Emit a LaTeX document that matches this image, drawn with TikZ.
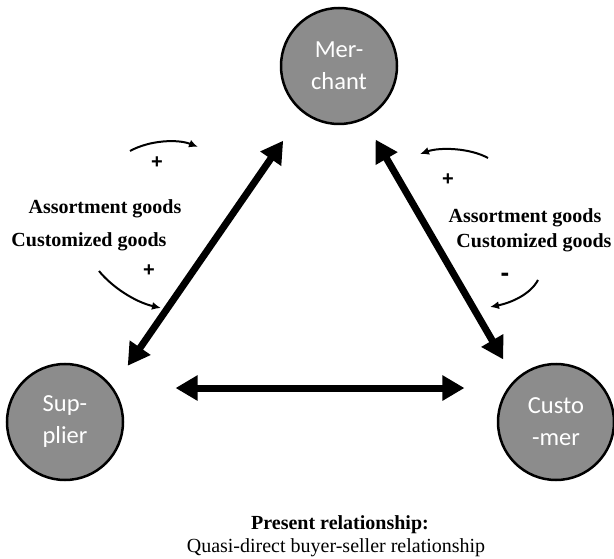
\documentclass[tikz,border=0pt]{standalone}
\usepackage{fontspec}
\setmainfont{Liberation Serif}
\newfontfamily\circlefont{Carlito}
\newfontfamily\signfont{Liberation Sans}
\usetikzlibrary{arrows.meta}
\definecolor{partygray}{RGB}{140,140,140}
\tikzset{
  party/.style={circle, draw=black, line width=2.5pt, fill=partygray,
    minimum size=116pt, inner sep=0pt, text=white, align=center,
    font=\circlefont\fontsize{24.5}{32}\selectfont},
  link/.style={{Triangle[length=22pt,width=24pt]}-{Triangle[length=22pt,width=24pt]},
    line width=7pt},
  effect/.style={-{Latex[length=9pt,width=8pt]}, line width=2pt},
  goods/.style={font=\bfseries\fontsize{20}{24}\selectfont},
  sign/.style={font=\signfont\bfseries\fontsize{20}{22}\selectfont},
}
\begin{document}
\begin{tikzpicture}[x=1pt, y=-1pt]
  \useasboundingbox (0,0) rectangle (614,559);
  \node[party] (mer) at (339,66) {Mer-\\chant};
  \node[party] (sup) at (65,422) {Sup-\\plier};
  \node[party] (cus) at (556,422) {Custo\\-mer};
  \begin{scope}[link]
    \draw[shorten <=26pt, shorten >=34pt] (sup.36) -- (mer.232);
    \draw[shorten <=23pt, shorten >=23pt] (mer.295) -- (cus.134);
    \draw[shorten <=62pt, shorten >=43pt] (sup.35) -- (cus.145);
  \end{scope}
  % supplier side
  \node[goods] (asl) at (105,209) {Assortment goods};
  \node[goods] (cul) at (89,242) {Customized goods};
  \node[sign] (p1) at (157,163) {+};
  \node[sign] (p2) at (149,271) {+};
  \coordinate (a1s) at (130,151);
  \coordinate (a1e) at (198,147);
  \coordinate (a2s) at (99,271);
  \coordinate (a2e) at (161,308);
  \draw[effect] (a1s) .. controls (150,140) and (178,139) .. (a1e);
  \draw[effect] (a2s) .. controls (112,287) and (135,302) .. (a2e);
  % customer side
  \node[goods] (asr) at (525,218) {Assortment goods};
  \node[goods] (cur) at (534,243) {Customized goods};
  \node[sign] (p3) at (448,180) {+};
  \node[sign, font=\signfont\bfseries\fontsize{26}{28}\selectfont] (m1) at (505,277) {-};
  \coordinate (a3s) at (488,158);
  \coordinate (a3e) at (420,154);
  \coordinate (a4s) at (538,280);
  \coordinate (a4e) at (490,307);
  \draw[effect] (a3s) .. controls (470,148) and (440,147) .. (a3e);
  \draw[effect] (a4s) .. controls (530,295) and (510,303) .. (a4e);
  % caption
  \node[font=\bfseries\fontsize{20}{24}\selectfont] (cap1) at (340,525) {Present relationship:};
  \node[font=\fontsize{20}{24}\selectfont] (cap2) at (336,548) {Quasi-direct buyer-seller relationship};
\end{tikzpicture}
\end{document}
